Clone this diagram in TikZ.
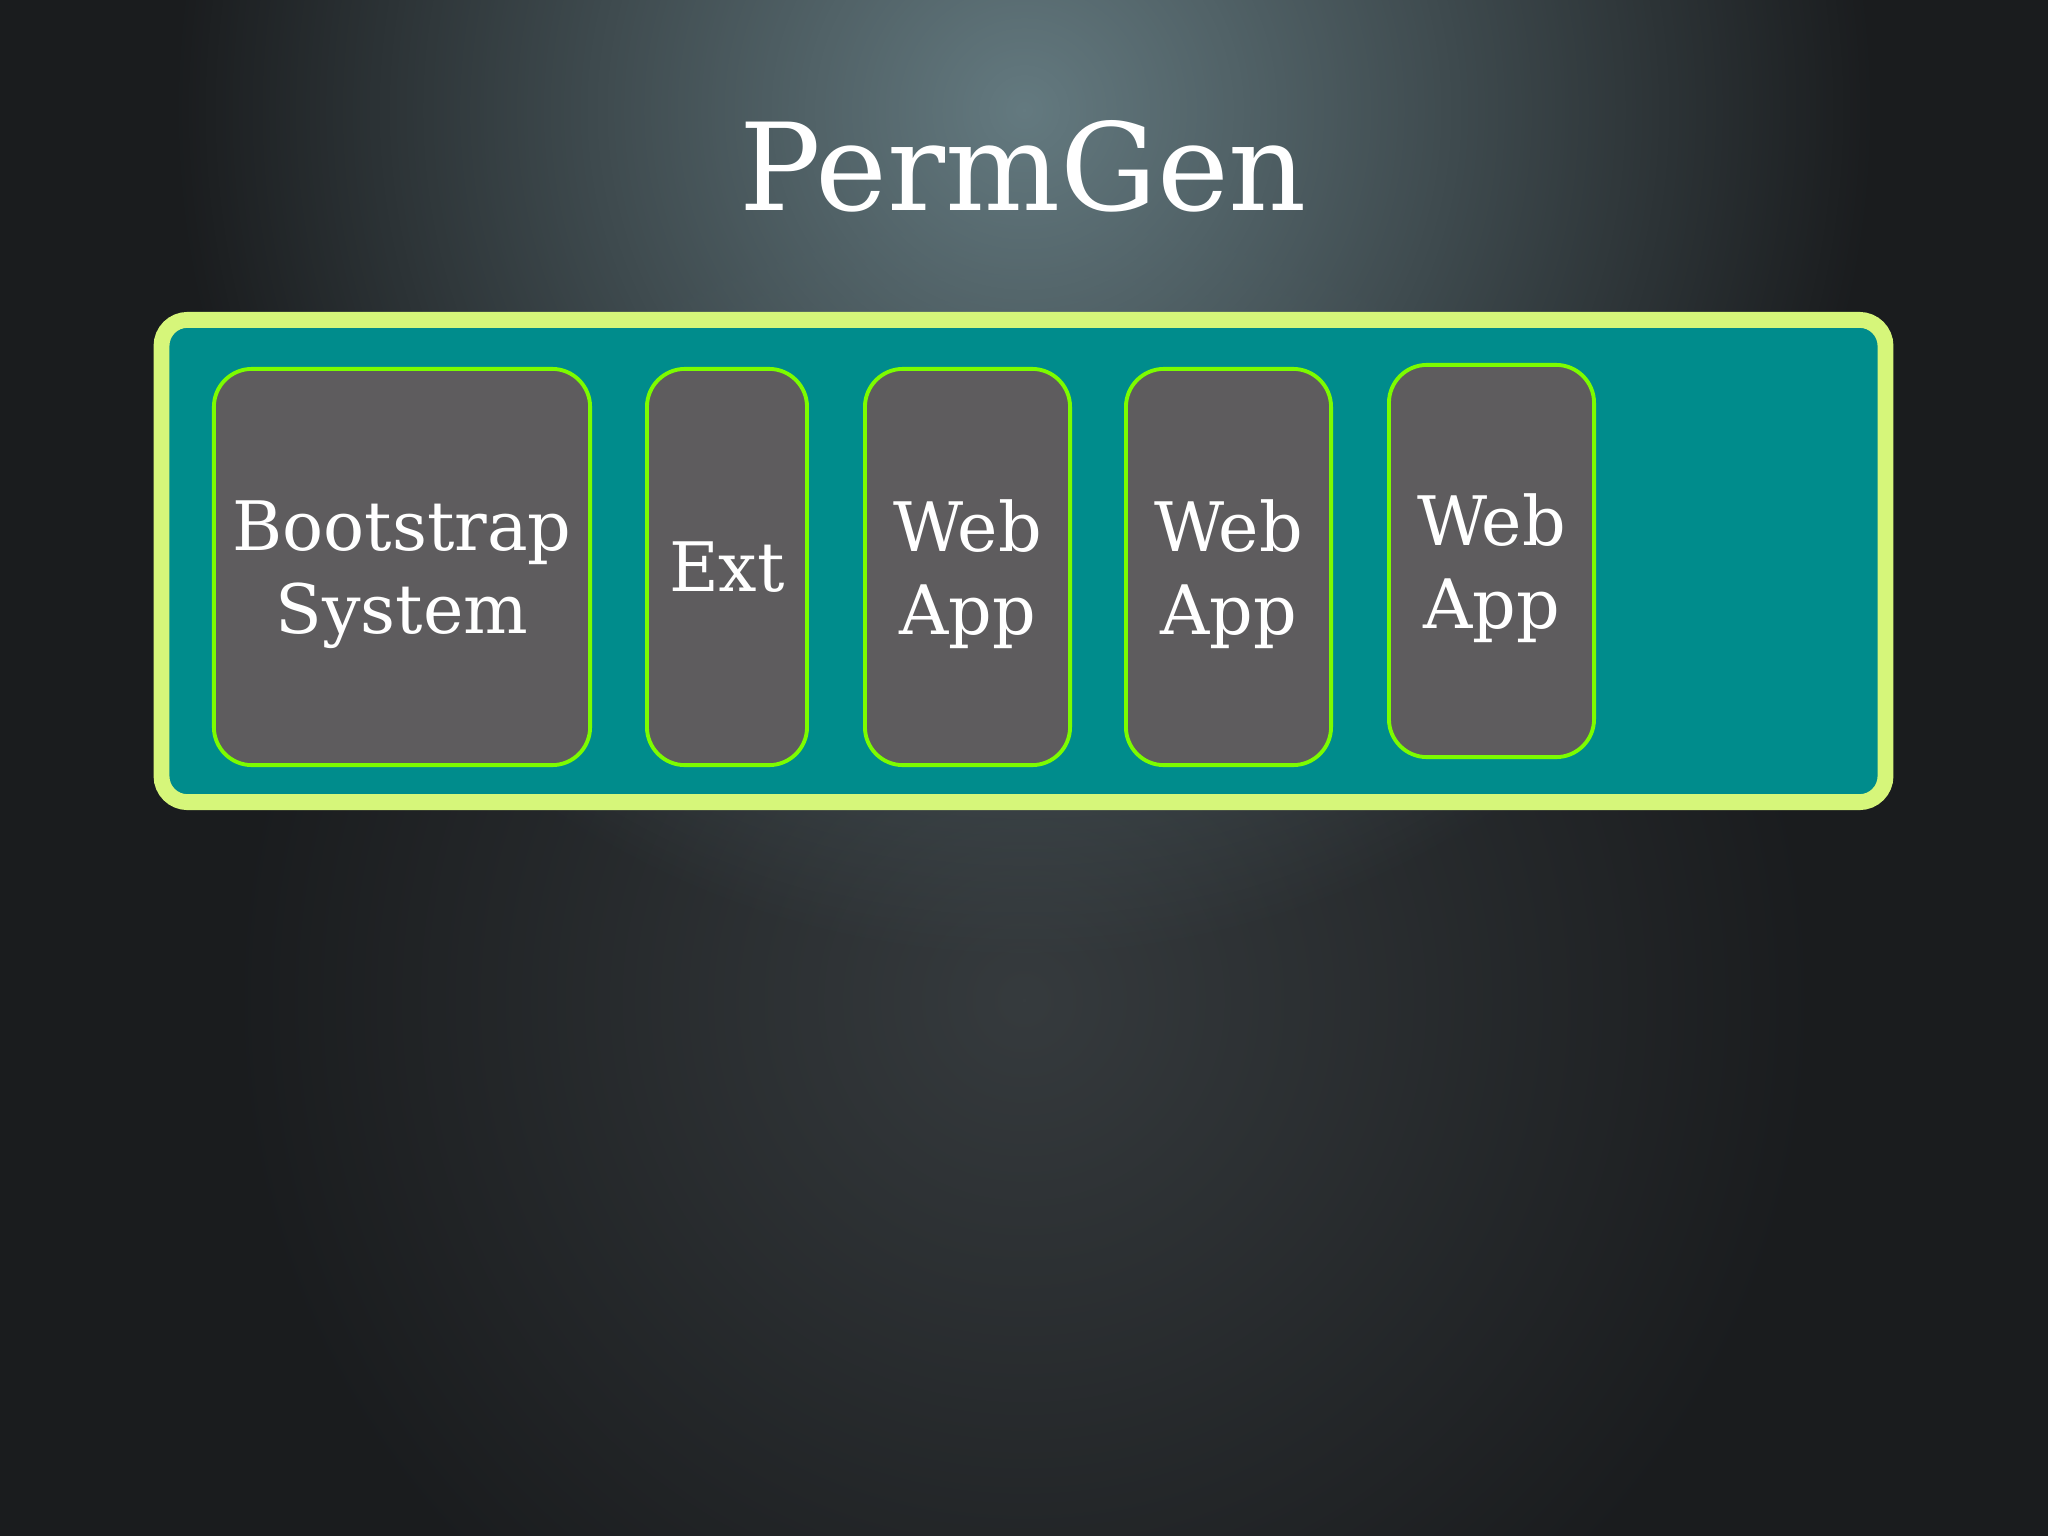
\documentclass[tikz,border=0pt]{standalone}
\usepackage{fontspec}
\setmainfont{DejaVu Serif}
\usetikzlibrary{fadings}
\definecolor{slidebg}{RGB}{26,28,30}
\definecolor{spot}{RGB}{100,122,128}
\definecolor{glow}{RGB}{54,59,62}
\definecolor{permfill}{RGB}{0,140,140}
\definecolor{permrim}{RGB}{214,246,122}
\definecolor{loaderfill}{RGB}{94,92,94}
\definecolor{loaderrim}{RGB}{124,252,0}
\tikzfading[name=softspot,inner color=transparent!0,outer color=transparent!100]

\begin{document}
\begin{tikzpicture}[x=0.01cm,y=-0.01cm,
    permgen/.style={draw=permrim,line width=4.5pt,fill=permfill,rounded corners=0.26cm,
      minimum width=17.23cm,minimum height=4.82cm,inner sep=0pt},
    loader/.style={draw=loaderrim,line width=1.1pt,fill=loaderfill,rounded corners=0.38cm,
      minimum height=3.96cm,inner sep=0pt,text=white,align=center,text depth=0pt,
      font=\fontsize{19.4}{23.6}\selectfont},
    title/.style={text=white,font=\fontsize{34.5}{40}\selectfont}]
  % slide background
  \useasboundingbox (0,0) rectangle (2048,1536);
  \fill[slidebg] (0,0) rectangle (2048,1536);
  \begin{scope}
    \clip (0,0) rectangle (2048,1536);
    \fill[glow,path fading=softspot] (1024,1000) ellipse [x radius=8cm,y radius=8cm];
    \fill[spot,path fading=softspot] (1024,110) ellipse [x radius=8.5cm,y radius=8.5cm];
  \end{scope}

  \node[title] (title) at (1023,166) {PermGen};
  \node[permgen] (heap) at (1023.5,561) {};

  % class loaders
  \node[loader,minimum width=3.76cm] (boot) at (402,567) {Bootstrap\\System};
  \node[loader,minimum width=1.60cm] (ext) at (727,567) {Ext};
  \node[loader,minimum width=2.05cm] (webA) at (967.5,567) {Web\\App};
  \node[loader,minimum width=2.05cm] (webB) at (1228.5,567) {Web\\App};
  \node[loader,minimum width=2.05cm,minimum height=3.92cm] (webC) at (1491.5,561) {Web\\App};
\end{tikzpicture}
\end{document}
